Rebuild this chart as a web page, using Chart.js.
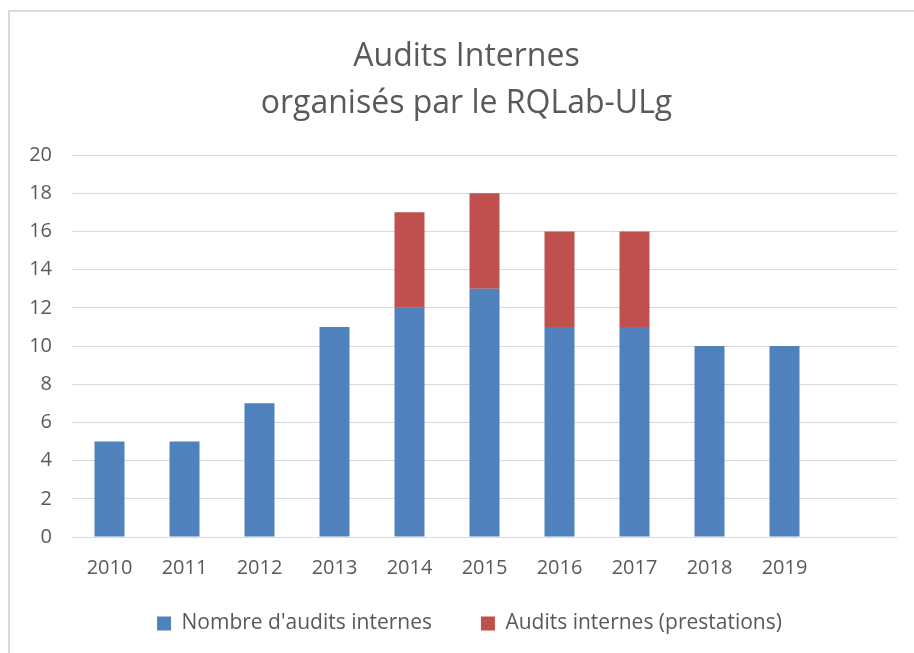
<!DOCTYPE html>
<html>
<head>
<meta charset="utf-8">
<script src="https://cdn.jsdelivr.net/npm/chart.js@4"></script>
<style>
  html, body { margin: 0; padding: 0; background: #fff; overflow: hidden; }
  #wrap { position: relative; width: 914px; height: 653px; }
  #frame { position: absolute; left: 8px; top: 10px; width: 1000px; height: 1000px;
           border-left: 2px solid #d9d9d9; border-top: 2px solid #d9d9d9; pointer-events: none; }
  canvas { position: absolute; left: 0; top: 0; }
</style>
</head>
<body>
<div id="wrap">
  <canvas id="c" width="914" height="653"></canvas>
  <div id="frame"></div>
</div>
<script>
const categories = ['2010','2011','2012','2013','2014','2015','2016','2017','2018','2019',''];
const nombreAudits = [5, 5, 7, 11, 12, 13, 11, 11, 10, 10, null];
const prestations = [0, 0, 0, 0, 5, 5, 5, 5, 0, 0, null];
const yTicks = [0, 2, 4, 6, 8, 10, 12, 14, 16, 18, 20];
const titleLines = ['Audits Internes', 'organisés par le RQLab-ULg'];

const FONT = "'Open Sans', 'Noto Sans', sans-serif";
const GREY = '#595959';

// Centre title and legend on the whole frame (as in the original), and let x labels overflow
const shiftBlocks = {
  id: 'shiftBlocks',
  afterLayout(chart) {
    const t = chart.titleBlock;
    if (t) { t.left += 36; }
    const l = chart.legend;
    if (l) { l.left += 42; }
    const x = chart.scales.x;
    if (x) { x.bottom += 30; }
  }
};

new Chart(document.getElementById('c'), {
  type: 'bar',
  data: {
    labels: categories,
    datasets: [
      { label: "Nombre d'audits internes", data: nombreAudits, backgroundColor: '#4f81bd',
        categoryPercentage: 1, barPercentage: 0.4 },
      { label: 'Audits internes (prestations)', data: prestations, backgroundColor: '#c0504d',
        categoryPercentage: 1, barPercentage: 0.4 }
    ]
  },
  plugins: [shiftBlocks],
  options: {
    responsive: false,
    animation: false,
    layout: { padding: { left: 0, right: 17, top: 0, bottom: 9 } },
    plugins: {
      title: {
        display: true,
        text: titleLines,
        color: GREY,
        font: { family: FONT, size: 32, weight: 'normal', lineHeight: 1.47 },
        padding: { top: 33, bottom: 28 }
      },
      legend: {
        position: 'bottom',
        labels: {
          color: GREY,
          font: { family: FONT, size: 21 },
          boxWidth: 14, boxHeight: 14,
          padding: 49
        }
      },
      tooltip: { enabled: false }
    },
    scales: {
      x: {
        stacked: true,
        grid: { display: false },
        border: { display: false },
        ticks: { color: GREY, font: { family: FONT, size: 20 }, padding: 11, maxRotation: 0 },
        afterFit: (s) => { s.height = 27; }
      },
      y: {
        stacked: true,
        min: 0, max: 20,
        afterBuildTicks: (s) => { s.ticks = yTicks.map(v => ({ value: v })); },
        grid: { color: '#d9d9d9', lineWidth: 1, drawTicks: false },
        border: { display: false },
        ticks: { color: GREY, font: { family: FONT, size: 20 }, padding: 20 },
        afterFit: (s) => { s.width = 72; }
      }
    }
  }
});
</script>
</body>
</html>
